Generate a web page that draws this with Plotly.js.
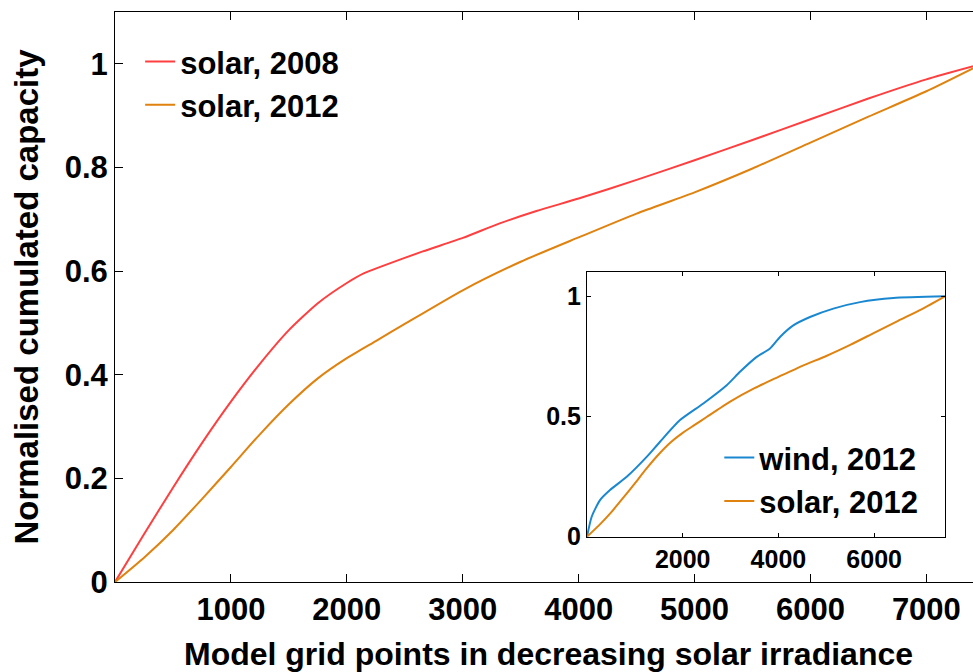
<!DOCTYPE html>
<html>
<head>
<meta charset="utf-8">
<script src="https://cdn.plot.ly/plotly-3.0.1.min.js"></script>
<style>
html,body{margin:0;padding:0;overflow:hidden;background:#fff;}
#chart{width:983px;height:672px;}
</style>
</head>
<body>
<div id="chart"></div>
<script>
// Main plot: solar capacity curves
const solar2008_x = [0, 250, 500, 750, 1000, 1250, 1500, 1750, 2000, 2150, 2300, 2655, 3001, 3319, 3636, 4000, 4500, 5000, 5500, 6000, 6500, 7000, 7480];
const solar2008_y = [0, 0.092, 0.182, 0.268, 0.348, 0.421, 0.486, 0.538, 0.577, 0.596, 0.609, 0.638, 0.664, 0.692, 0.716, 0.740, 0.776, 0.814, 0.853, 0.893, 0.933, 0.970, 1.0];
const solar2012_x = [0, 250, 500, 750, 1000, 1250, 1500, 1750, 2000, 2250, 2500, 3000, 3500, 4000, 4500, 5000, 5500, 6000, 6500, 7000, 7480];
const solar2012_y = [0, 0.047, 0.100, 0.160, 0.222, 0.285, 0.343, 0.393, 0.432, 0.465, 0.498, 0.563, 0.618, 0.665, 0.711, 0.752, 0.798, 0.848, 0.898, 0.947, 1.0];
// Inset: wind capacity curve
const wind2012_x = [0, 98, 272, 481, 830, 1247, 1526, 1944, 2431, 2919, 3197, 3546, 3824, 4033, 4311, 4660, 5147, 5705, 6401, 7480];
const wind2012_y = [0, 0.083, 0.152, 0.194, 0.249, 0.332, 0.395, 0.485, 0.554, 0.630, 0.686, 0.748, 0.783, 0.831, 0.879, 0.914, 0.949, 0.976, 0.993, 1.0];

const mainXTicks = [1000, 2000, 3000, 4000, 5000, 6000, 7000];
const mainYTicks = [0, 0.2, 0.4, 0.6, 0.8, 1];
const insetXTicks = [2000, 4000, 6000];
const insetYTicks = [0, 0.5, 1];

const RED = '#ff3f3f', ORANGE = '#e0820e', BLUE = '#1a88d0';
const FONT = 'Liberation Sans, Arial, Helvetica, sans-serif';

function line(color) { return {color: color, width: 2, shape: 'spline', smoothing: 0.6}; }

const traces = [
  {x: solar2008_x, y: solar2008_y, mode: 'lines', name: 'solar, 2008', line: line(RED), xaxis: 'x', yaxis: 'y', legend: 'legend'},
  {x: solar2012_x, y: solar2012_y, mode: 'lines', name: 'solar, 2012', line: line(ORANGE), xaxis: 'x', yaxis: 'y', legend: 'legend'},
  {x: wind2012_x, y: wind2012_y, mode: 'lines', name: 'wind, 2012', line: line(BLUE), xaxis: 'x2', yaxis: 'y2', legend: 'legend2'},
  {x: solar2012_x, y: solar2012_y, mode: 'lines', name: 'solar, 2012', line: line(ORANGE), xaxis: 'x2', yaxis: 'y2', legend: 'legend2'}
];

const axisCommon = {
  showgrid: false, zeroline: false, showline: true, linecolor: '#000', linewidth: 1,
  ticks: 'inside', tickcolor: '#000', mirror: 'ticks'
};

const layout = {
  width: 983, height: 672,
  margin: {l: 115, r: 1, t: 12, b: 90},
  paper_bgcolor: '#fff', plot_bgcolor: '#fff',
  font: {family: FONT, color: '#000'},
  showlegend: true,
  xaxis: Object.assign({}, axisCommon, {
    range: [0, 7480], tickvals: mainXTicks, ticktext: mainXTicks.map(String), ticklen: 8,
    tickfont: {size: 31, family: FONT, weight: 'bold'},
    title: {text: '<b>Model grid points in decreasing solar irradiance</b>', font: {size: 32, family: FONT}, standoff: 20}
  }),
  yaxis: Object.assign({}, axisCommon, {
    range: [0, 1.1], tickvals: mainYTicks, ticktext: mainYTicks.map(String), ticklen: 8,
    tickfont: {size: 31, family: FONT, weight: 'bold'},
    ticklabelstandoff: 0,
    title: {text: '<b>Normalised cumulated capacity</b>', font: {size: 33, family: FONT}, standoff: 16}
  }),
  xaxis2: Object.assign({}, axisCommon, {
    domain: [0.5444, 0.9573], anchor: 'y2', range: [0, 7480],
    tickvals: insetXTicks, ticktext: insetXTicks.map(String), ticklen: 4,
    tickfont: {size: 25, family: FONT, weight: 'bold'}
  }),
  yaxis2: Object.assign({}, axisCommon, {
    domain: [0.0795, 0.5433], anchor: 'x2', range: [0, 1.1],
    tickvals: insetYTicks, ticktext: insetYTicks.map(String), ticklen: 4,
    tickfont: {size: 25, family: FONT, weight: 'bold'}
  }),
  legend: {
    x: 0.029, y: 0.96, xanchor: 'left', yanchor: 'top', bgcolor: 'rgba(0,0,0,0)',
    font: {size: 31, family: FONT, weight: 'bold'}, tracegroupgap: 0
  },
  legend2: {
    x: 0.697, y: 0.265, xanchor: 'left', yanchor: 'top', bgcolor: 'rgba(0,0,0,0)',
    font: {size: 31, family: FONT, weight: 'bold'}, tracegroupgap: 0
  }
};

Plotly.newPlot('chart', traces, layout, {staticPlot: true, displayModeBar: false});
</script>
</body>
</html>
